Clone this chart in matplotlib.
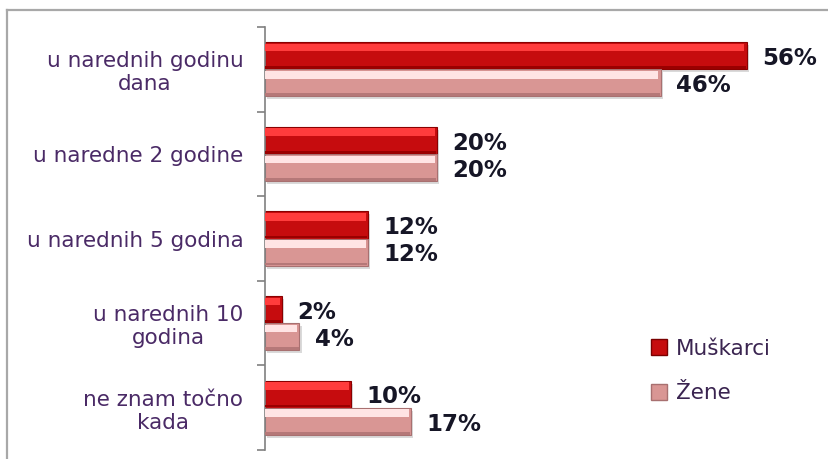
import numpy as np
import matplotlib
matplotlib.use('Agg')
import matplotlib.pyplot as plt
from matplotlib.patches import Patch
from matplotlib.lines import Line2D

plt.rcParams['font.family'] = ['DejaVu Sans']

# podaci
kategorije = ['u narednih godinu\ndana', 'u naredne 2 godine', 'u narednih 5 godina',
              'u narednih 10\ngodina', 'ne znam točno\nkada']
muskarci = [56, 20, 12, 2, 10]
zene = [46, 20, 12, 4, 17]
serije = ['Muškarci', 'Žene']

W, H = 829, 459
fig = plt.figure(figsize=(W / 100, H / 100), dpi=100)

# okvir (gornji i lijevi rub, ostatak izvan slike)
fig.add_artist(Line2D([7 / W, 1.0], [1 - 10 / H, 1 - 10 / H], color='#A8A8A8', lw=1.6))
fig.add_artist(Line2D([7 / W, 7 / W], [0.0, 1 - 10 / H], color='#A8A8A8', lw=1.6))

ax = fig.add_axes([265 / W, 9 / H, (W - 265) / W, (450 - 27) / H])

y = np.arange(len(kategorije))
h = 0.32


def bevel_bar(centers, vals, base, light, dark, edge):
    # sjena
    ax.barh(centers + 0.035, vals, height=h, left=0.25, color='#BDBDBD', alpha=0.55,
            zorder=1, linewidth=0)
    # tijelo
    ax.barh(centers, vals, height=h, color=base, edgecolor=edge, linewidth=0.8, zorder=2)
    # svijetli gornji pojas
    top = centers - h / 2
    ax.barh(top + 0.06 * h + 0.14 * h, np.array(vals) - 0.25, height=0.28 * h, left=0.0,
            color=light, linewidth=0, zorder=3)
    # tamni donji rub
    ax.barh(centers + h / 2 - 0.06 * h, np.array(vals) - 0.1, height=0.1 * h,
            color=dark, linewidth=0, zorder=3)


bevel_bar(y - h / 2, muskarci, '#C60C0E', '#FF3C3C', '#9A0000', '#8A0000')
bevel_bar(y + h / 2, zene, '#D99694', '#FFE4E4', '#B57878', '#A87070')

for i in range(len(kategorije)):
    ax.annotate(f'{muskarci[i]}%', (muskarci[i], y[i] - h / 2), xytext=(11, -2),
                textcoords='offset points', ha='left', va='center',
                fontsize=16.5, fontweight='bold', color='#161626')
    ax.annotate(f'{zene[i]}%', (zene[i], y[i] + h / 2), xytext=(11, -2),
                textcoords='offset points', ha='left', va='center',
                fontsize=16.5, fontweight='bold', color='#161626')

ax.set_xlim(0, (W - 265) / 8.6)
ax.set_ylim(len(kategorije) - 0.5, -0.5)

ax.set_yticks(np.arange(-0.5, len(kategorije)), minor=False)
ax.set_yticklabels([])
ax.set_yticks(y, minor=True)
ax.set_yticklabels(kategorije, minor=True, fontsize=15.5, color='#4A2A66')
ax.tick_params(axis='y', which='major', length=6, width=1.2, color='#808080', direction='out')
ax.tick_params(axis='y', which='minor', length=0, pad=15.5)
for lbl in ax.get_yticklabels(minor=True):
    lbl.set_multialignment('center')

ax.set_xticks([])
for s in ['top', 'right', 'bottom']:
    ax.spines[s].set_visible(False)
ax.spines['left'].set_color('#808080')
ax.spines['left'].set_linewidth(1.2)

handles = [Patch(facecolor='#C60C0E', edgecolor='#7A0000'),
           Patch(facecolor='#D99694', edgecolor='#A87070')]
fig.legend(handles, serije, loc='center left', bbox_to_anchor=(651 / W, 88 / H),
           bbox_transform=fig.transFigure, frameon=False, fontsize=15.5,
           handlelength=0.75, handleheight=0.75, handletextpad=0.4,
           labelspacing=1.15, borderpad=0, borderaxespad=0, labelcolor='#3A2450')

fig.savefig('out.png', dpi=100)
